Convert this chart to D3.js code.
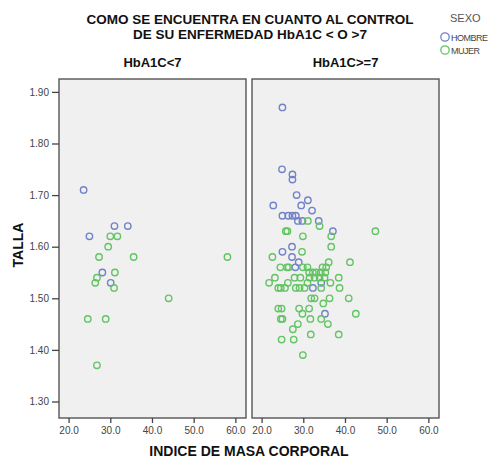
<!DOCTYPE html>
<html>
<head>
<meta charset="utf-8">
<script src="https://cdn.jsdelivr.net/npm/d3@7"></script>
<style>
  body { margin: 0; background: #fff; }
  text { font-family: "Liberation Sans", Arial, sans-serif; }
</style>
</head>
<body>
<div id="chart"></div>
<script>
const width = 493;
const height = 458;

// HbA1C<7
const hombreIMC_bajo   = [23.6, 25.0, 31.0, 34.2, 28.1, 30.1];
const hombreTalla_bajo = [1.71, 1.62, 1.64, 1.64, 1.55, 1.53];
const mujerIMC_bajo    = [30.0, 31.7, 29.5, 27.3, 35.6, 58.1, 31.1, 26.8, 26.4, 30.9, 44.0, 24.6, 28.9, 26.8];
const mujerTalla_bajo  = [1.62, 1.62, 1.60, 1.58, 1.58, 1.58, 1.55, 1.54, 1.53, 1.52, 1.50, 1.46, 1.46, 1.37];

// HbA1C>=7
const hombreIMC_alto   = [25.0, 24.9, 27.4, 27.4, 28.4, 31.1, 22.8, 29.5, 32.1, 25.0, 26.4, 27.4, 28.2,
                          28.7, 29.8, 33.7, 37.1, 27.3, 25.0, 27.3, 28.9, 28.1, 34.3, 32.3, 35.2];
const hombreTalla_alto = [1.87, 1.75, 1.74, 1.73, 1.70, 1.69, 1.68, 1.68, 1.67, 1.66, 1.66, 1.66, 1.66,
                          1.65, 1.65, 1.65, 1.63, 1.60, 1.59, 1.58, 1.57, 1.56, 1.53, 1.52, 1.47];
const mujerIMC_alto    = [31.1, 33.9, 25.8, 26.2, 47.3, 29.9, 36.7, 36.7, 29.7, 22.6, 36.1, 41.2,
                          24.5, 26.1, 26.5, 29.9, 31.0, 34.6, 35.5,
                          31.4, 32.3, 33.1, 34.2, 35.3,
                          23.2, 27.9, 29.3, 31.5, 32.7, 33.9, 35.1, 38.5,
                          21.8, 26.3, 31.0, 36.5,
                          24.0, 24.6, 25.6, 28.2, 29.1, 30.3, 34.3, 38.7,
                          31.9, 32.7, 36.3, 40.9,
                          34.8,
                          24.0, 24.8, 29.0, 31.4,
                          29.8, 42.6,
                          24.6, 25.0, 31.7, 34.3,
                          28.7, 35.9,
                          27.5,
                          31.8, 38.5,
                          24.8, 27.7,
                          29.9];
const mujerTalla_alto  = [1.65, 1.64, 1.63, 1.63, 1.63, 1.62, 1.62, 1.60, 1.59, 1.58, 1.57, 1.57,
                          1.56, 1.56, 1.56, 1.56, 1.56, 1.56, 1.56,
                          1.55, 1.55, 1.55, 1.55, 1.55,
                          1.54, 1.54, 1.54, 1.54, 1.54, 1.54, 1.54, 1.54,
                          1.53, 1.53, 1.53, 1.53,
                          1.52, 1.52, 1.52, 1.52, 1.52, 1.52, 1.52, 1.52,
                          1.50, 1.50, 1.50, 1.50,
                          1.49,
                          1.48, 1.48, 1.48, 1.48,
                          1.47, 1.47,
                          1.46, 1.46, 1.46, 1.46,
                          1.45, 1.45,
                          1.44,
                          1.43, 1.43,
                          1.42, 1.42,
                          1.39];

const paneles = ['HbA1C<7', 'HbA1C>=7'];
const sexos = ['HOMBRE', 'MUJER'];
const xTicks = [20, 30, 40, 50, 60];
const yTicks = [1.30, 1.40, 1.50, 1.60, 1.70, 1.80, 1.90];

const colores = {'HOMBRE': '#7282c8', 'MUJER': '#62c462'};

const datos = [
    {panel: paneles[0], sexo: 'HOMBRE', x: hombreIMC_bajo, y: hombreTalla_bajo},
    {panel: paneles[0], sexo: 'MUJER',  x: mujerIMC_bajo,  y: mujerTalla_bajo},
    {panel: paneles[1], sexo: 'HOMBRE', x: hombreIMC_alto, y: hombreTalla_alto},
    {panel: paneles[1], sexo: 'MUJER',  x: mujerIMC_alto,  y: mujerTalla_alto}
];

const svg = d3.select("#chart").append("svg")
    .attr("width", width)
    .attr("height", height);

const plotTop = 79, plotBottom = 418;
const panelLeft = {'HbA1C<7': 59, 'HbA1C>=7': 252};
const panelW = 187;

const yScale = d3.scaleLinear().domain([1.268, 1.925]).range([plotBottom, plotTop]);

// title
svg.append("text")
    .attr("x", 250).attr("y", 24)
    .attr("text-anchor", "middle")
    .style("font-size", "13.5px").style("font-weight", "bold").attr("fill", "#111")
    .text("COMO SE ENCUENTRA EN CUANTO AL CONTROL");
svg.append("text")
    .attr("x", 250).attr("y", 39)
    .attr("text-anchor", "middle")
    .style("font-size", "13.5px").style("font-weight", "bold").attr("fill", "#111")
    .text("DE SU ENFERMEDAD HbA1C < O >7");

paneles.forEach(function(p) {
    var x0 = panelLeft[p];
    var xScale = d3.scaleLinear().domain([17.7, 62.55]).range([x0, x0 + panelW]);

    svg.append("rect")
        .attr("x", x0).attr("y", plotTop)
        .attr("width", panelW).attr("height", plotBottom - plotTop)
        .attr("fill", "#f0f0f0")
        .attr("stroke", "#555").attr("stroke-width", 1.4);

    svg.append("text")
        .attr("x", x0 + panelW / 2).attr("y", 67)
        .attr("text-anchor", "middle")
        .style("font-size", "13px").style("font-weight", "bold").attr("fill", "#111")
        .text(p);

    var xAxis = d3.axisBottom(xScale).tickValues(xTicks).tickSize(5)
        .tickFormat(d3.format(".1f"));
    var gx = svg.append("g")
        .attr("transform", "translate(0," + plotBottom + ")")
        .call(xAxis);
    gx.select(".domain").remove();
    gx.selectAll("line").attr("stroke", "#444").attr("stroke-width", 1.3);
    gx.selectAll("text").attr("fill", "#444").style("font-size", "10px")
        .attr("y", 9);

    // points
    datos.filter(function(d) { return d.panel == p; }).forEach(function(serie) {
        svg.append("g").selectAll("circle")
            .data(serie.x)
            .enter()
            .append("circle")
            .attr("cx", function(d) { return xScale(d); })
            .attr("cy", function(d, i) { return yScale(serie.y[i]); })
            .attr("r", 3.2)
            .attr("fill", "none")
            .attr("stroke", colores[serie.sexo])
            .attr("stroke-width", 1.4);
    });
});

// y axis
var yAxis = d3.axisLeft(yScale).tickValues(yTicks).tickSize(7)
    .tickFormat(d3.format(".2f"));
var gy = svg.append("g")
    .attr("transform", "translate(" + panelLeft[paneles[0]] + ",0)")
    .call(yAxis);
gy.select(".domain").remove();
gy.selectAll("line").attr("stroke", "#444").attr("stroke-width", 1.3);
gy.selectAll("text").attr("fill", "#444").style("font-size", "10px");

// axis titles
svg.append("text")
    .attr("x", 249).attr("y", 456)
    .attr("text-anchor", "middle")
    .style("font-size", "14px").style("font-weight", "bold").attr("fill", "#111")
    .text("INDICE DE MASA CORPORAL");

svg.append("text")
    .attr("transform", "translate(23,245) rotate(-90)")
    .attr("text-anchor", "middle")
    .style("font-size", "14px").style("font-weight", "bold").attr("fill", "#111")
    .text("TALLA");

// legend
svg.append("text")
    .attr("x", 450).attr("y", 22)
    .style("font-size", "11px").attr("fill", "#555")
    .text("SEXO");

var leg = svg.append("g").selectAll("g")
    .data(sexos)
    .enter().append("g")
    .attr("transform", function(d, i) { return "translate(445," + (37 + i * 13) + ")"; });
leg.append("circle")
    .attr("r", 4.2)
    .attr("fill", "none")
    .attr("stroke", function(d) { return colores[d]; })
    .attr("stroke-width", 1.3);
leg.append("text")
    .attr("x", 6).attr("y", 3.5)
    .style("font-size", "9px").attr("fill", "#444")
    .style("letter-spacing", "-0.5px")
    .text(function(d) { return d; });
</script>
</body>
</html>
